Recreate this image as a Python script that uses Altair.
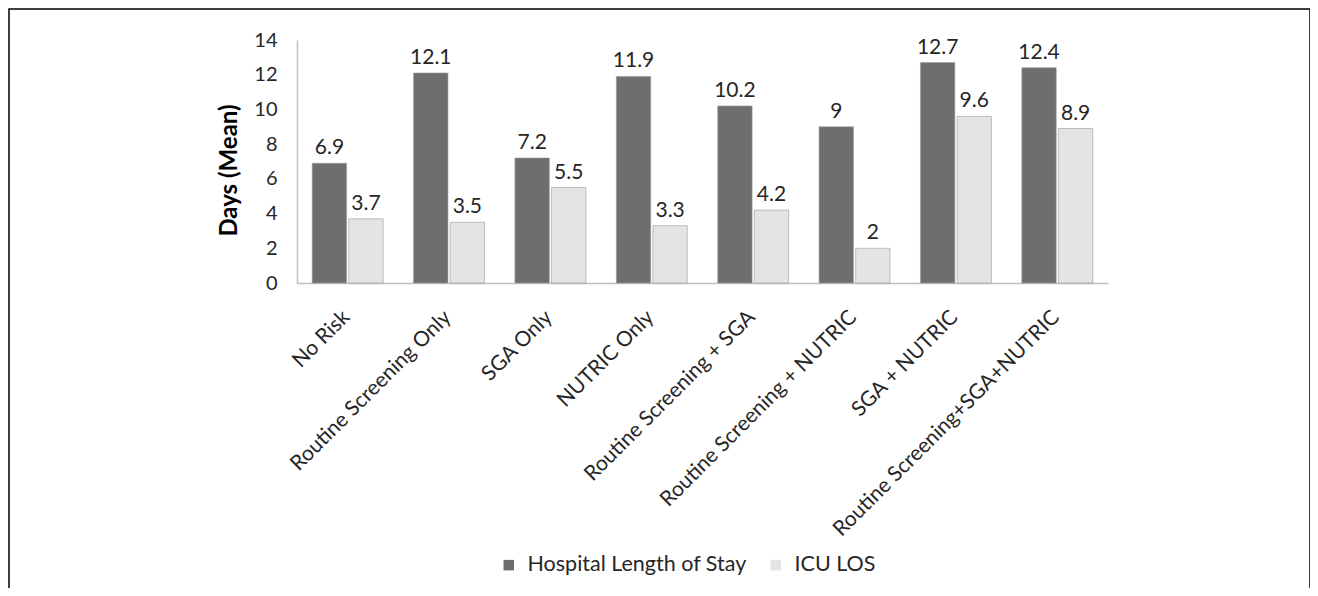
import altair as alt
import pandas as pd

categories = [
    "No Risk",
    "Routine Screening Only",
    "SGA Only",
    "NUTRIC Only",
    "Routine Screening + SGA",
    "Routine Screening + NUTRIC",
    "SGA + NUTRIC",
    "Routine Screening+SGA+NUTRIC",
]
hospital_los = [6.9, 12.1, 7.2, 11.9, 10.2, 9, 12.7, 12.4]
icu_los = [3.7, 3.5, 5.5, 3.3, 4.2, 2, 9.6, 8.9]
series = ["Hospital Length of Stay", "ICU LOS"]
y_ticks = [0, 2, 4, 6, 8, 10, 12, 14]

rows = []
for c, h, i in zip(categories, hospital_los, icu_los):
    rows.append({"cat": c, "series": series[0], "value": h})
    rows.append({"cat": c, "series": series[1], "value": i})
df = pd.DataFrame(rows)

FONT = "Lato"
W, H = 811, 243

x_enc = alt.X("cat:N", sort=categories, title=None,
              scale=alt.Scale(paddingInner=0.3, paddingOuter=0.15),
              axis=alt.Axis(labelAngle=-45, labelFontSize=21, labelFont=FONT,
                            labelColor="#262626", ticks=False, labelPadding=23,
                            labelOffset=-9,
                            domainColor="#bfbfbf", domainWidth=1.5, labelLimit=500,
                            labelOverlap=False))
xoff = alt.XOffset("series:N", sort=series, scale=alt.Scale(paddingInner=0.06))
y_enc = alt.Y("value:Q", title="Days (Mean)",
              scale=alt.Scale(domain=[0, 14]),
              axis=alt.Axis(values=y_ticks, grid=False, ticks=False,
                            labelFontSize=20, labelFont=FONT, labelColor="#262626",
                            labelPadding=20, labelOverlap=False,
                            domainColor="#bfbfbf", domainWidth=1.5,
                            titleFont=FONT, titleFontSize=24, titleFontWeight="bold",
                            titleColor="#000000", titlePadding=12, titleY=130))

color = alt.Color("series:N", sort=series,
                  scale=alt.Scale(domain=series, range=["#6e6e6e", "#e4e4e4"]),
                  legend=alt.Legend(title=None, orient="none", direction="horizontal",
                                    legendX=201, legendY=514, symbolType="square",
                                    symbolSize=110, symbolStrokeWidth=0,
                                    labelFont=FONT, labelFontSize=21.5, labelColor="#262626",
                                    columnPadding=18, labelOffset=8, labelLimit=500))

base = alt.Chart(df)
bars = base.mark_bar(stroke="#9a9a9a", strokeWidth=0.6).encode(
    x=x_enc, xOffset=xoff, y=y_enc, color=color)
labels = base.mark_text(baseline="alphabetic", dy=-9, font=FONT, fontSize=21,
                        color="#262626").encode(
    x=x_enc, xOffset=xoff, y=y_enc,
    text=alt.Text("value:Q"))

frame = alt.Chart(pd.DataFrame({"k": [0]})).mark_rect(
    fill=None, stroke="#000000", strokeWidth=1.5).encode(
    x=alt.value(-288), x2=alt.value(1013), y=alt.value(-31), y2=alt.value(700))

chart = alt.layer(bars, labels, frame).properties(
    width=W, height=H,
    background="white",
    padding={"left": 289, "top": 32, "right": 202, "bottom": 305},
    autosize=alt.AutoSizeParams(type="none"),
).configure_view(strokeWidth=0, stroke="transparent")

chart.save("out.html", embed_options={"renderer": "svg", "actions": False})
